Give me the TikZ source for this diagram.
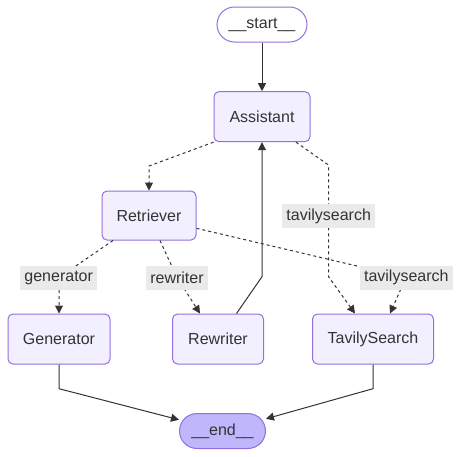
\documentclass[tikz,border=0pt]{standalone}
\usepackage{fontspec}
\setmainfont{Liberation Sans}
\usetikzlibrary{arrows.meta}
\definecolor{nodefill}{HTML}{F2F0FF}
\definecolor{nodeline}{HTML}{9370DB}
\definecolor{endfill}{HTML}{BFB6FC}
\definecolor{txt}{HTML}{333333}
\definecolor{lblfill}{HTML}{EAEAEA}
\begin{document}
\begin{tikzpicture}[x=1pt,y=-1pt,
  every node/.style={font=\fontsize{16}{19}\selectfont, text=txt},
  box/.style={draw=nodeline, fill=nodefill, line width=1pt, rounded corners=5pt, minimum height=50pt, inner sep=0pt},
  term/.style={draw=nodeline, line width=1pt, rounded corners=17.5pt, minimum height=35pt, inner sep=0pt},
  lbl/.style={fill=lblfill, minimum height=24pt, inner xsep=4pt, inner ysep=0pt},
  edge/.style={draw=txt, line width=1pt, -{Triangle[length=8pt,width=8pt]}},
  cond/.style={edge, dash pattern=on 3pt off 3pt}]
\useasboundingbox[fill=white] (0,0) rectangle (461,456);

\node[term, fill=white, minimum width=90pt] (S) at (262,24.5) {\_\_start\_\_};
\node[box, minimum width=96pt] (A) at (262,116.7) {Assistant};
\node[box, minimum width=94pt, minimum height=49pt] (R) at (149,215.5) {Retriever};
\node[box, minimum width=102pt] (G) at (59,339) {Generator};
\node[box, minimum width=91pt] (W) at (218,339) {Rewriter};
\node[box, minimum width=121pt] (T) at (373,339) {TavilySearch};
\node[term, fill=endfill, minimum width=86pt] (E) at (222.5,431) {\_\_end\_\_};

\draw[edge] (S) -- (A);
\draw[cond] (A.south west) -- (149,166) -- (R);
\draw[cond] ([xshift=34pt]A.south) -- (328.5,165) -- (328.5,276.7) -- ([xshift=-18pt]T.north);
\draw[cond] ([yshift=-12.8pt]R.east) -- (406,277.5) -- ([xshift=17pt]T.north);
\draw[cond] ([xshift=-36pt]R.south) -- (59,277.5) -- (G);
\draw[cond] ([xshift=11pt]R.south) -- (177,277.5) -- ([xshift=-18pt]W.north);
\draw[edge] ([xshift=18.5pt]W.north) -- (262,276.7) -- (A);
\draw[edge] (G) -- (59,388.7) -- (E);
\draw[edge] (T) -- (373,388.7) -- (E);

\node[lbl] (l1) at (328.7,216) {tavilysearch};
\node[lbl] (l2) at (58.7,277.5) {generator};
\node[lbl] (l3) at (177,277.5) {rewriter};
\node[lbl] (l4) at (406.3,277.5) {tavilysearch};
\end{tikzpicture}
\end{document}
